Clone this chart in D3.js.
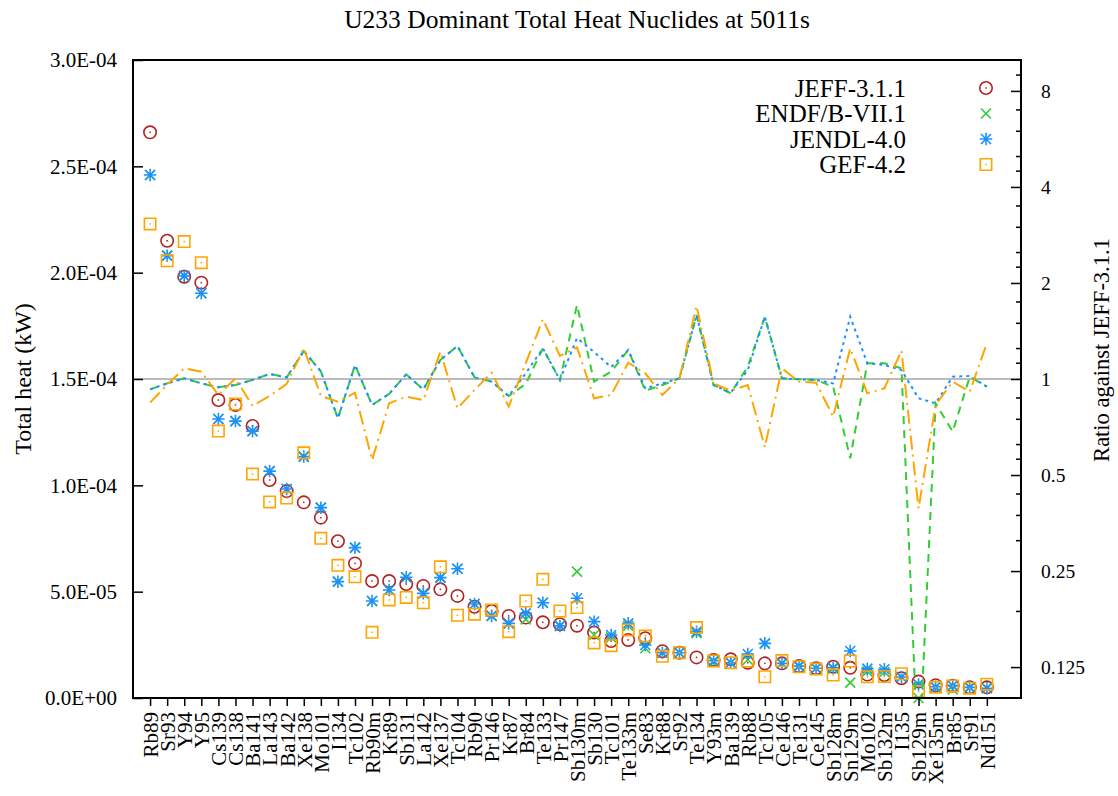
<!DOCTYPE html>
<html><head><meta charset="utf-8">
<script src="https://cdn.jsdelivr.net/npm/d3@7"></script>
<style>
body{margin:0;background:#fff}
svg{display:block}
text{font-family:"Liberation Serif","Times New Roman",serif;fill:#000}
</style>
</head><body>
<svg id="c" width="1118" height="796"></svg>
<script>
// ---------------- data ----------------
const nuclides = ["Rb89","Sr93","Y94","Y95","Cs139","Cs138","Ba141","La143","Ba142","Xe138",
  "Mo101","I134","Tc102","Rb90m","Kr89","Sb131","La142","Xe137","Tc104","Rb90",
  "Pr146","Kr87","Br84","Te133","Pr147","Sb130m","Sb130","Tc101","Te133m","Se83",
  "Kr88","Sr92","Te134","Y93m","Ba139","Rb88","Tc105","Ce146","Te131","Ce145",
  "Sb128m","Sn129m","Mo102","Sb132m","I135","Sb129m","Xe135m","Br85","Sr91","Nd151"];

// total heat (kW), values in units of 1e-5 kW
const jeff = [26.60,21.50,19.81,19.53,14.01,13.78,12.79,10.25,9.73,9.20,
  8.48,7.37,6.33,5.50,5.50,5.36,5.27,5.11,4.80,4.29,
  4.09,3.86,3.78,3.56,3.47,3.40,3.08,2.68,2.73,2.81,
  2.20,2.13,1.91,1.79,1.82,1.66,1.63,1.63,1.50,1.40,
  1.47,1.42,1.10,1.08,0.93,0.77,0.60,0.58,0.50,0.50];
const endf = [24.59,20.80,19.85,19.03,13.12,13.02,12.55,10.67,9.83,11.35,
  8.95,5.47,7.07,4.56,5.08,5.68,4.92,5.66,6.08,4.42,
  3.86,3.51,3.70,4.48,3.39,5.94,2.96,2.85,3.40,2.34,
  2.13,2.13,3.05,1.70,1.66,1.80,2.55,1.63,1.50,1.40,
  1.38,0.72,1.25,1.22,0.99,0.00,0.50,0.40,0.50,0.47];
const jendl = [24.59,20.80,19.85,19.03,13.12,13.02,12.55,10.67,9.83,11.35,
  8.95,5.47,7.07,4.56,5.08,5.68,4.92,5.66,6.08,4.42,
  3.86,3.51,3.98,4.48,3.39,4.69,3.59,2.96,3.51,2.49,
  2.13,2.13,3.12,1.75,1.66,2.07,2.57,1.63,1.50,1.40,
  1.42,2.21,1.38,1.35,0.99,0.64,0.53,0.58,0.50,0.46];
const gef = [22.29,20.56,21.46,20.47,12.55,13.82,10.53,9.22,9.40,11.53,
  7.51,6.24,5.70,3.09,4.61,4.73,4.48,6.17,3.89,3.94,
  4.14,3.12,4.56,5.58,4.09,4.25,2.59,2.46,3.20,2.92,
  1.96,2.13,3.31,1.74,1.66,1.74,1.00,1.76,1.47,1.36,
  1.08,1.74,1.00,1.01,1.14,0.30,0.50,0.57,0.46,0.65];

// ratio against JEFF-3.1.1 (right axis)
const ratioEndf = [0.928,0.969,1.005,0.969,0.942,0.958,0.993,1.037,1.012,1.224,
  1.057,0.753,1.106,0.829,0.898,1.034,0.928,1.147,1.269,1.012,
  0.981,0.884,0.965,1.248,0.993,1.706,0.981,1.054,1.233,0.919,
  0.958,1.005,1.587,0.958,0.902,1.093,1.568,1.005,0.998,0.993,
  0.946,0.564,1.120,1.120,1.080,0.06,0.839,0.684,1.017,0.946];
const ratioJendl = [0.928,0.969,1.005,0.969,0.942,0.958,0.993,1.037,1.012,1.224,
  1.057,0.753,1.106,0.829,0.898,1.034,0.928,1.147,1.269,1.012,
  0.981,0.884,1.042,1.248,0.993,1.344,1.215,1.090,1.233,0.935,
  0.969,1.005,1.587,0.958,0.906,1.067,1.568,1.005,0.998,0.993,
  0.969,1.568,1.120,1.106,1.067,0.870,0.839,1.017,1.022,0.946];
const ratioGef = [0.843,0.960,1.080,1.054,0.891,1.005,0.823,0.885,0.965,1.248,
  0.885,0.849,0.906,0.557,0.839,0.880,0.859,1.218,0.809,0.924,
  1.047,0.819,1.122,1.539,1.181,1.257,0.870,0.891,1.125,1.042,
  0.891,1.005,1.694,0.969,0.919,0.958,0.611,1.080,0.981,0.974,
  0.762,1.248,0.902,0.935,1.227,0.393,0.829,0.981,0.912,1.294];

const leftTicks = [0, 5e-5, 1e-4, 1.5e-4, 2e-4, 2.5e-4, 3e-4];
const leftTickLabels = ["0.0E+00","5.0E-05","1.0E-04","1.5E-04","2.0E-04","2.5E-04","3.0E-04"];
const rightTicks = [0.125, 0.25, 0.5, 1, 2, 4, 8];
const rightTickLabels = ["0.125","0.25","0.5","1","2","4","8"];
const rightMinorTicks = [0.1875,0.3125,0.375,0.4375,0.5625,0.625,0.75,0.875,
  1.125,1.25,1.5,1.75,2.25,2.5,3,3.5,4.5,5,6,7,9];

const libs = ["JEFF-3.1.1","ENDF/B-VII.1","JENDL-4.0","GEF-4.2"];
const title = "U233 Dominant Total Heat Nuclides at 5011s";
const UNIT = 1e-5;

// ---------------- layout ----------------
const L = 133, R = 1021, T = 60, B = 698;
const svg = d3.select("#c");
const x = d3.scaleLinear().domain([0, 52]).range([L, R]);
const y = d3.scaleLinear().domain([0, 3e-4]).range([B, T]);
const y2 = d3.scaleLog().domain([0.1, 10]).range([B, T]);

const colors = {jeff:"#b22222", endf:"#32cd32", jendl:"#1e90ff", gef:"#ffa500"};
const FONT = "'Liberation Serif','Times New Roman',serif";

svg.append("defs").append("clipPath").attr("id","clip")
  .append("rect").attr("x",L).attr("y",T).attr("width",R-L).attr("height",B-T);

// title
svg.append("text").attr("x",577).attr("y",28).attr("text-anchor","middle")
  .style("font-size","25.5px").text(title);

// reference line at ratio 1
svg.append("line").attr("x1",L).attr("x2",R).attr("y1",y2(1)).attr("y2",y2(1))
  .attr("stroke","#bbbbbb").attr("stroke-width",2);

// markers
function markerPath(type, s){
  if(type==="x") return `M${-s},${-s}L${s},${s}M${-s},${s}L${s},${-s}`;
  if(type==="star") return `M${-s},${-s}L${s},${s}M${-s},${s}L${s},${-s}M0,${-s*1.25}L0,${s*1.25}M${-s*1.25},0L${s*1.25},0`;
  return `M${-s},${-s}H${s}V${s}H${-s}Z`;
}
function drawMarker(g, type, cx, cy, color){
  const m = g.append("g").attr("transform",`translate(${cx},${cy})`);
  if(type==="circle"){
    m.append("circle").attr("r",6.2).attr("fill","none").attr("stroke",color).attr("stroke-width",1.6);
  } else if(type==="x"){
    m.append("path").attr("d",markerPath("x",5)).attr("fill","none").attr("stroke",color).attr("stroke-width",1.6);
  } else if(type==="star"){
    m.append("path").attr("d",markerPath("star",5)).attr("fill","none").attr("stroke",color).attr("stroke-width",1.6);
  } else {
    m.append("path").attr("d",markerPath("square",5.7)).attr("fill","none").attr("stroke",color).attr("stroke-width",1.6);
  }
  m.append("rect").attr("x",-0.75).attr("y",-0.75).attr("width",1.5).attr("height",1.5).attr("fill",color);
}

const series = [
  {key:"jeff", vals:jeff, type:"circle"},
  {key:"endf", vals:endf, type:"x"},
  {key:"jendl", vals:jendl, type:"star"},
  {key:"gef", vals:gef, type:"square"}
];
const pts = svg.append("g");
series.forEach(s=>{
  const g = pts.append("g");
  s.vals.forEach((v,i)=> drawMarker(g, s.type, x(i+1), y(v*UNIT), colors[s.key]));
});

// ratio lines
const line = d3.line().x((d,i)=>x(i+1)).y(d=>y2(d));
const lg = svg.append("g").attr("clip-path","url(#clip)");
lg.append("path").datum(ratioEndf).attr("d",line).attr("fill","none")
  .attr("stroke",colors.endf).attr("stroke-width",2).attr("stroke-dasharray","8,6");
lg.append("path").datum(ratioJendl).attr("d",line).attr("fill","none")
  .attr("stroke",colors.jendl).attr("stroke-width",2).attr("stroke-dasharray","3,4");
lg.append("path").datum(ratioGef).attr("d",line).attr("fill","none")
  .attr("stroke",colors.gef).attr("stroke-width",2).attr("stroke-dasharray","14,5,2,5");

// border
svg.append("rect").attr("x",L).attr("y",T).attr("width",R-L).attr("height",B-T)
  .attr("fill","none").attr("stroke","#000").attr("stroke-width",2);

// left axis
const yAxis = d3.axisLeft(y).tickValues(leftTicks).tickSize(-10)
  .tickFormat((d,i)=>leftTickLabels[i]).tickPadding(16);
const ga = svg.append("g").attr("transform",`translate(${L},0)`).call(yAxis);
ga.select(".domain").remove();
ga.selectAll(".tick line").attr("stroke","#000").attr("stroke-width",1.5);
ga.selectAll("text").style("font-size","21px").style("font-family",FONT).attr("fill","#000");

// right axis major
const y2Axis = d3.axisRight(y2).tickValues(rightTicks).tickSize(-10)
  .tickFormat((d,i)=>rightTickLabels[i]).tickPadding(20);
const gr = svg.append("g").attr("transform",`translate(${R},0)`).call(y2Axis);
gr.select(".domain").remove();
gr.selectAll(".tick line").attr("stroke","#000").attr("stroke-width",1.5);
gr.selectAll("text").style("font-size","19.5px").style("font-family",FONT).attr("fill","#000");
// right axis minor
const y2Minor = d3.axisRight(y2).tickValues(rightMinorTicks).tickSize(-5).tickFormat("");
const gm = svg.append("g").attr("transform",`translate(${R},0)`).call(y2Minor);
gm.select(".domain").remove();
gm.selectAll(".tick line").attr("stroke","#000").attr("stroke-width",1.5);

// bottom axis
const xAxis = d3.axisBottom(x).tickValues(d3.range(1, nuclides.length+1)).tickSize(8)
  .tickFormat(d=>nuclides[d-1]);
const gx = svg.append("g").attr("transform",`translate(0,${B})`).call(xAxis);
gx.select(".domain").remove();
gx.selectAll(".tick line").attr("stroke","#000").attr("stroke-width",1.5);
gx.selectAll("text").style("font-size","21px").style("font-family",FONT)
  .attr("fill","#000").attr("text-anchor","end")
  .attr("transform","rotate(-90)").attr("x",-14).attr("y",0).attr("dy","0.35em");

// axis titles
svg.append("text").attr("transform","translate(31,379) rotate(-90)").attr("text-anchor","middle")
  .style("font-size","24px").text("Total heat (kW)");
svg.append("text").attr("transform","translate(1109,350) rotate(-90)").attr("text-anchor","middle")
  .style("font-size","22.5px").text("Ratio against JEFF-3.1.1");

// legend
const legY = [88, 113.5, 139, 164.5];
const legTypes = ["circle","x","star","square"];
const legKeys = ["jeff","endf","jendl","gef"];
libs.forEach((name,i)=>{
  svg.append("text").attr("x",906).attr("y",legY[i]).attr("dy","0.35em")
    .attr("text-anchor","end").style("font-size","25px").text(name);
  drawMarker(svg, legTypes[i], 986, legY[i], colors[legKeys[i]]);
});
</script>
</body></html>
